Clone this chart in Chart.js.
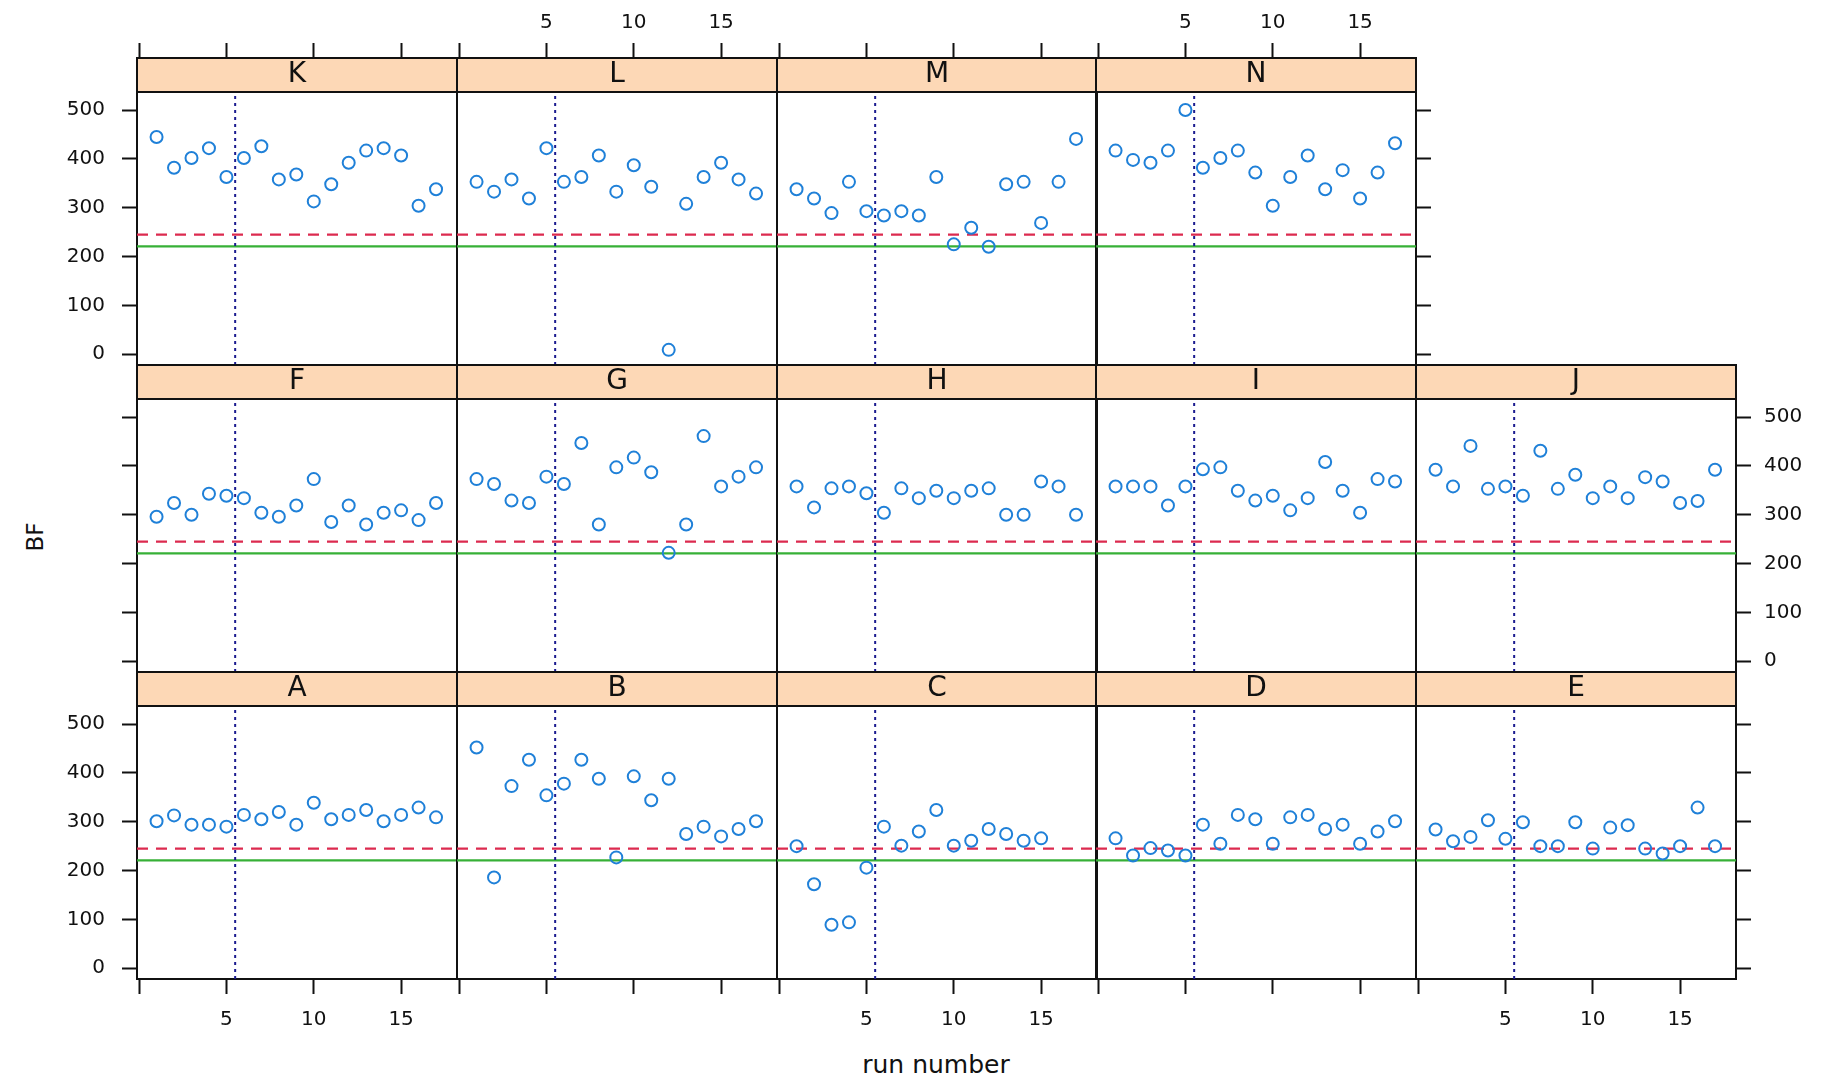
<!DOCTYPE html>
<html>
<head>
<meta charset="utf-8">
<script src="https://cdn.jsdelivr.net/npm/chart.js@4.4.1/dist/chart.umd.min.js"></script>
<style>
  body { margin: 0; background: #fff; width: 1824px; height: 1082px; position: relative; overflow: hidden; font-family: 'DejaVu Sans', sans-serif; }
  canvas { position: absolute; }
  .axis-title { position: absolute; font-size: 25px; color: #111; white-space: nowrap; transform: translate(-50%, -50%); }
  #yTitle { transform: translate(-50%, -50%) rotate(-90deg); font-size: 23px; }
</style>
</head>
<body>
<div class="axis-title" id="xTitle" style="left:936px; top:1064px;">run number</div>
<div class="axis-title" id="yTitle" style="left:35px; top:537px;">BF</div>
<script>
// run numbers and BF values per lab
const runNumbers = [1, 2, 3, 4, 5, 6, 7, 8, 9, 10, 11, 12, 13, 14, 15, 16, 17];

const bfA = [301, 313, 294, 294, 290, 314, 305, 320, 294, 339, 305, 314, 324, 301, 314, 329, 309];
const bfB = [452, 186, 373, 427, 354, 378, 427, 388, 227, 393, 344, 388, 275, 290, 270, 285, 301];
const bfC = [250, 172, 89, 94, 206, 290, 251, 280, 324, 251, 261, 285, 275, 261, 266];
const bfD = [266, 231, 246, 241, 231, 294, 255, 314, 305, 255, 309, 314, 285, 294, 255, 280, 301];
const bfE = [284, 260, 269, 303, 265, 299, 250, 250, 299, 245, 288, 293, 245, 235, 250, 329, 250];
const bfF = [296, 324, 300, 343, 339, 334, 304, 296, 319, 373, 285, 319, 280, 304, 309, 289, 324];
const bfG = [373, 363, 329, 324, 378, 363, 447, 280, 397, 417, 387, 222, 280, 461, 358, 378, 397];
const bfH = [358, 315, 354, 358, 344, 304, 354, 334, 349, 334, 349, 354, 300, 300, 368, 358, 300];
const bfI = [358, 358, 358, 319, 358, 393, 397, 349, 329, 339, 309, 334, 408, 349, 304, 373, 368];
const bfJ = [392, 358, 441, 353, 358, 339, 431, 353, 382, 334, 358, 334, 377, 368, 324, 328, 392];
const bfK = [445, 382, 402, 422, 363, 402, 426, 358, 368, 313, 348, 392, 417, 422, 407, 304, 338];
const bfL = [353, 333, 358, 319, 422, 353, 363, 407, 333, 387, 343, 9, 308, 363, 392, 358, 329];
const bfM = [338, 319, 289, 353, 293, 284, 293, 284, 363, 225, 259, 220, 348, 353, 269, 353, 441];
const bfN = [417, 398, 392, 417, 500, 382, 402, 417, 372, 304, 363, 407, 338, 377, 319, 372, 432];

const panelLetters = ['K', 'L', 'M', 'N', 'F', 'G', 'H', 'I', 'J', 'A', 'B', 'C', 'D', 'E'];
const panelSeries = [bfK, bfL, bfM, bfN, bfF, bfG, bfH, bfI, bfJ, bfA, bfB, bfC, bfD, bfE];
const panelRows = [0, 0, 0, 0, 1, 1, 1, 1, 1, 2, 2, 2, 2, 2];
const panelCols = [0, 1, 2, 3, 0, 1, 2, 3, 4, 0, 1, 2, 3, 4];

const xTickValues = [0, 5, 10, 15];
const xTickLabels = ['', '5', '10', '15'];
const yTickValues = [0, 100, 200, 300, 400, 500];

const redLevel = 245;
const greenLevel = 221;
const splitRun = 5.5;
const xMin = -0.12, xMax = 18.2;
const yMin = -22, yMax = 537;

// layout
const PAD_X = 80, PAD_Y = 70;
const PANEL_W = 320, STRIP_H = 34, PLOT_H = 273;
const LEFT0 = 137, TOP0 = 58, COL_STEP = 319.75, ROW_STEP = 307;
const STRIP_FILL = '#fdd8b6';
const INK = '#111';
const CLEAR = 'rgba(0,0,0,0)';

Chart.defaults.font.family = "'DejaVu Sans', sans-serif";
Chart.defaults.color = INK;

const stripPlugin = {
  id: 'strip',
  beforeDraw(chart) {
    const t = chart.titleBlock;
    const a = chart.chartArea;
    if (!t) return;
    const ctx = chart.ctx;
    ctx.save();
    ctx.fillStyle = STRIP_FILL;
    ctx.fillRect(a.left, t.top, a.right - a.left, t.bottom - t.top);
    ctx.strokeStyle = INK;
    ctx.lineWidth = 2;
    ctx.strokeRect(a.left, t.top, a.right - a.left, t.bottom - t.top);
    ctx.restore();
  }
};

function fitTo(dim, size) {
  return (s) => {
    s[dim] = size;
    s.paddingLeft = 0; s.paddingRight = 0; s.paddingTop = 0; s.paddingBottom = 0;
  };
}

function xAxis(position, marks, labels, weight) {
  return {
    type: 'linear', position: position, min: xMin, max: xMax, weight: weight,
    afterBuildTicks: (s) => { s.ticks = xTickValues.map(v => ({ value: v })); },
    afterFit: fitTo('height', PAD_Y),
    grid: { display: true, drawOnChartArea: false, drawTicks: true, tickLength: 15, tickWidth: 2, tickColor: marks ? INK : CLEAR },
    border: { display: true, color: INK, width: 2 },
    ticks: {
      autoSkip: false, maxRotation: 0, padding: position === 'top' ? 8 : 14,
      font: { size: 20 }, color: labels ? INK : CLEAR,
      callback: (v) => { const i = xTickValues.indexOf(v); return i < 0 ? '' : xTickLabels[i]; }
    }
  };
}

function yAxis(position, marks, labels) {
  return {
    type: 'linear', position: position, min: yMin, max: yMax,
    afterBuildTicks: (s) => { s.ticks = yTickValues.map(v => ({ value: v })); },
    afterFit: fitTo('width', PAD_X),
    grid: { display: true, drawOnChartArea: false, drawTicks: true, tickLength: 15, tickWidth: 2, tickColor: marks ? INK : CLEAR },
    border: { display: true, color: INK, width: 2 },
    ticks: { padding: position === 'left' ? 17 : 13, font: { size: 20 }, color: labels ? INK : CLEAR }
  };
}

panelLetters.forEach((letter, p) => {
  const row = panelRows[p], col = panelCols[p];
  const lastCol = row === 0 ? 3 : 4;
  const canvas = document.createElement('canvas');
  canvas.width = PAD_X * 2 + PANEL_W;
  canvas.height = PAD_Y * 2 + STRIP_H + PLOT_H;
  canvas.style.left = (Math.round(LEFT0 + col * COL_STEP) - PAD_X) + 'px';
  canvas.style.top = (TOP0 + row * ROW_STEP - PAD_Y) + 'px';
  document.body.appendChild(canvas);

  const points = panelSeries[p].map((v, i) => ({ x: runNumbers[i], y: v }));

  new Chart(canvas.getContext('2d'), {
    type: 'scatter',
    data: {
      datasets: [
        { data: points, pointRadius: 6, pointHoverRadius: 6, pointBorderWidth: 2,
          borderColor: '#1f80d8', backgroundColor: CLEAR, showLine: false },
        { data: [{ x: splitRun, y: yMin }, { x: splitRun, y: yMax }], showLine: true, pointRadius: 0,
          borderColor: '#1b1b8f', borderWidth: 2, borderDash: [3, 4] },
        { data: [{ x: xMin, y: redLevel }, { x: xMax, y: redLevel }], showLine: true, pointRadius: 0,
          borderColor: '#dc2a4f', borderWidth: 2.4, borderDash: [11, 8] },
        { data: [{ x: xMin, y: greenLevel }, { x: xMax, y: greenLevel }], showLine: true, pointRadius: 0,
          borderColor: '#36b036', borderWidth: 2.2 }
      ]
    },
    options: {
      responsive: false,
      devicePixelRatio: 1,
      animation: false,
      layout: { padding: 0, autoPadding: false },
      scales: {
        x: xAxis('bottom', row === 2, row === 2 && col % 2 === 0, 0),
        xTop: xAxis('top', row === 0, row === 0 && col % 2 === 1, 3000),
        y: yAxis('left', col === 0, col === 0 && row !== 1),
        yRight: yAxis('right', col === lastCol, col === lastCol && row === 1)
      },
      plugins: {
        legend: { display: false },
        tooltip: { enabled: false },
        title: {
          display: true, text: letter, fullSize: false, weight: 2000,
          color: INK, font: { size: 28, weight: 'normal', lineHeight: '34px' }, padding: { top: 0, bottom: 0 }
        }
      }
    },
    plugins: [stripPlugin]
  });
});
</script>
</body>
</html>
